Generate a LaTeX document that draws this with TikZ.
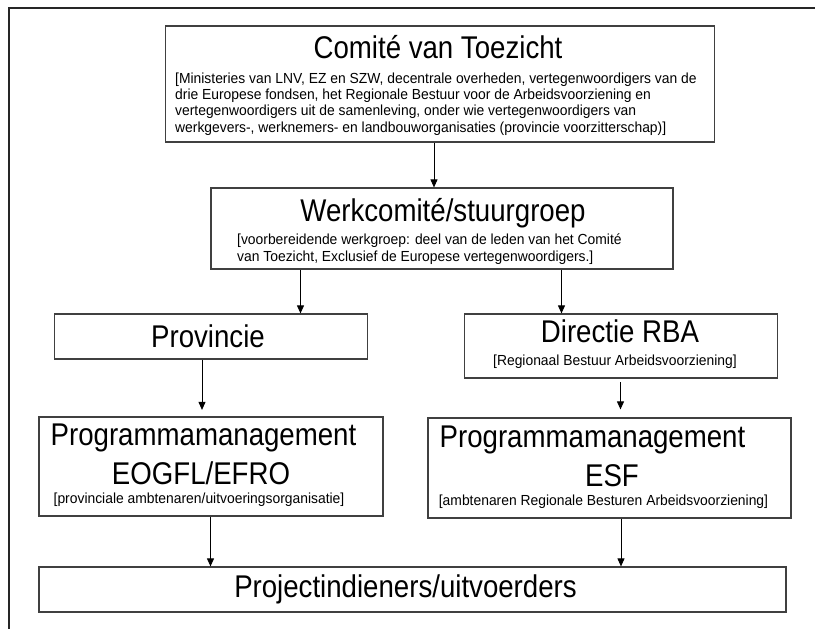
\documentclass[tikz,border=0pt]{standalone}
\usepackage{fontspec}
\setmainfont{Liberation Sans}
\newfontfamily\headfont{Liberation Sans}[FakeStretch=0.88]
\newfontfamily\notefont{Liberation Sans}[FakeStretch=0.95]
\usetikzlibrary{arrows.meta}

\begin{document}
\begin{tikzpicture}[x=1pt,y=-1pt,
    orgbox/.style={draw=black!75,line width=1.2pt,rectangle,inner sep=0pt},
    headtext/.style={inner sep=0pt,font=\headfont\fontsize{31.4}{35}\selectfont},
    notetext/.style={inner sep=0pt,align=left,font=\notefont\fontsize{14.6}{16.4}\selectfont},
    flow/.style={line width=0.9pt,-{Triangle[length=8pt,width=7pt]}}]
      \useasboundingbox (0,0) rectangle (815,629);
      \draw[line width=1.4pt,black!85] (815,8) -- (9,8) -- (9,629);

      % 'comite'
      \node[orgbox,minimum width=549pt,minimum height=116pt] at (440,84) (comite) {};
      \node[headtext] at (438,47) (comite-t) {Comité van Toezicht};
      \node[notetext,anchor=west] at (175,104) (comite-n) {[Ministeries van LNV, EZ en SZW, decentrale overheden, vertegenwoordigers van de\\
        drie Europese fondsen, het Regionale Bestuur voor de Arbeidsvoorziening en\\
        vertegenwoordigers uit de samenleving, onder wie vertegenwoordigers van\\
        werkgevers-, werknemers- en landbouworganisaties (provincie voorzitterschap)]};

      % 'werk'
      \node[orgbox,minimum width=462pt,minimum height=81pt] at (442,228.5) (werk) {};
      \node[headtext] at (443,213) (werk-t) {Werkcomité/stuurgroep};
      \node[notetext,anchor=west] at (237,249) (werk-n) {[voorbereidende werkgroep: deel van de leden van het Comité\\
        van Toezicht, Exclusief de Europese vertegenwoordigers.]};

      % 'provincie'
      \node[orgbox,minimum width=313pt,minimum height=45pt] at (211,336.5) (prov) {};
      \node[headtext] at (208,336) (prov-t) {Provincie};

      % 'directie'
      \node[orgbox,minimum width=313pt,minimum height=64pt] at (621,346) (rba) {};
      \node[headtext] at (620,331) (rba-t) {Directie RBA};
      \node[notetext] at (615,362) (rba-n) {[Regionaal Bestuur Arbeidsvoorziening]};

      % 'eogfl'
      \node[orgbox,minimum width=344pt,minimum height=99pt] at (211,466.5) (eogfl) {};
      \node[headtext] at (203.5,438) (eogfl-t) {Programmamanagement};
      \node[headtext] at (201,473) (eogfl-s) {EOGFL/EFRO};
      \node[notetext] at (199,500) (eogfl-n) {[provinciale ambtenaren/uitvoeringsorganisatie]};

      % 'esf'
      \node[orgbox,minimum width=363pt,minimum height=100pt] at (609.5,468) (esf) {};
      \node[headtext] at (592.5,440) (esf-t) {Programmamanagement};
      \node[headtext] at (612,476) (esf-s) {ESF};
      \node[notetext] at (603.5,502) (esf-n) {[ambtenaren Regionale Besturen Arbeidsvoorziening]};

      % 'project'
      \node[orgbox,minimum width=747pt,minimum height=45pt] at (412.5,589.5) (proj) {};
      \node[headtext] at (405.5,589) (proj-t) {Projectindieners/uitvoerders};

      % arrows
      \draw[flow] (434,0 |- comite.south) -- (434,0 |- werk.north);
      \draw[flow] (300.5,0 |- werk.south) -- (300.5,0 |- prov.north);
      \draw[flow] (561.5,0 |- werk.south) -- (561.5,0 |- rba.north);
      \draw[flow,shorten >=6.5pt] (202,0 |- prov.south) -- (202,0 |- eogfl.north);
      \draw[flow,shorten <=3.5pt,shorten >=8pt] (620.5,0 |- rba.south) -- (620.5,0 |- esf.north);
      \draw[flow] (210.5,0 |- eogfl.south) -- (210.5,0 |- proj.north);
      \draw[flow] (621,0 |- esf.south) -- (621,0 |- proj.north);
    \end{tikzpicture}
\end{document}
